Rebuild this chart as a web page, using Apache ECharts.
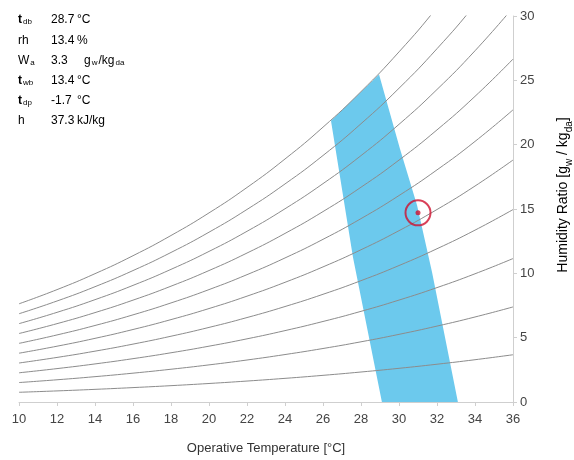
<!DOCTYPE html>
<html>
<head>
<meta charset="utf-8">
<script src="https://cdn.jsdelivr.net/npm/echarts@6/dist/echarts.min.js"></script>
<style>
  html, body { margin: 0; padding: 0; background: #fff; }
  #chart { width: 574px; height: 460px; }
</style>
</head>
<body>
<div id="chart"></div>
<script>
// Dry-bulb temperatures (°C) at which the relative-humidity curves are sampled
var tempPoints = [10, 12, 14, 16, 18, 20, 22, 24, 26, 28, 30, 32, 34, 36];

// Humidity ratio (g/kg) along each constant-RH curve, 10 % ... 100 %
var rh10  = [0.755, 0.862, 0.983, 1.119, 1.270, 1.439, 1.628, 1.838, 2.072, 2.331, 2.618, 2.936, 3.286, 3.672];
var rh20  = [1.511, 1.727, 1.969, 2.241, 2.546, 2.885, 3.264, 3.688, 4.158, 4.679, 5.258, 5.900, 6.607, 7.388];
var rh30  = [2.270, 2.595, 2.959, 3.368, 3.826, 4.338, 4.909, 5.548, 6.258, 7.046, 7.921, 8.891, 9.964, 11.148];
var rh40  = [3.030, 3.464, 3.951, 4.499, 5.112, 5.797, 6.563, 7.419, 8.371, 9.430, 10.606, 11.912, 13.356, 14.954];
var rh50  = [3.792, 4.336, 4.947, 5.634, 6.404, 7.263, 8.226, 9.302, 10.500, 11.832, 13.315, 14.961, 16.785, 18.805];
var rh60  = [4.556, 5.211, 5.946, 6.773, 7.700, 8.736, 9.897, 11.196, 12.642, 14.253, 16.046, 18.041, 20.252, 22.704];
var rh70  = [5.322, 6.088, 6.948, 7.916, 9.002, 10.216, 11.577, 13.101, 14.799, 16.692, 18.801, 21.149, 23.755, 26.650];
var rh80  = [6.090, 6.967, 7.953, 9.063, 10.309, 11.703, 13.267, 15.018, 16.971, 19.150, 21.580, 24.289, 27.298, 30.644];
var rh90  = [6.859, 7.849, 8.961, 10.215, 11.622, 13.197, 14.965, 16.947, 19.158, 21.627, 24.384, 27.459, 30.880, 34.688];
var rh100 = [7.631, 8.733, 9.973, 11.370, 12.940, 14.697, 16.672, 18.887, 21.360, 24.123, 27.211, 30.660, 34.502, 38.783];
var rhCurves = [rh10, rh20, rh30, rh40, rh50, rh60, rh70, rh80, rh90, rh100];

// Comfort zone outline: operative temperature (°C) and humidity ratio (g/kg)
var zoneTemp = [29.1, 27.58, 26.42, 28.95, 30.05, 30.95, 31.74, 33.1];
var zoneW    = [0,    11.23, 21.85, 25.46, 19.69, 15.3,  10.08, 0];

// Current state point
var stateTemp = [31.0];
var stateW = [14.7];

// Axis ticks
var xTicks = [10, 12, 14, 16, 18, 20, 22, 24, 26, 28, 30, 32, 34, 36];
var yTicks = [0, 5, 10, 15, 20, 25, 30];

// Readout panel (rich-text markup: {m|..} main text, {s|..} subscript)
var readoutSymbols = ['{b|t}{s|db}', '{m|rh}', '{w|W}{s|a}', '{b|t}{s|wb}', '{b|t}{s|dp}', '{m|h}'];
var readoutValues  = ['28.7', '13.4', '3.3', '13.4', '-1.7', '37.3'];
var readoutUnits   = ['{m|°C}', '{m|%}', '{m|g}{s|w}{m|/kg}{s|da}', '{m|°C}', '{m|°C}', '{m|kJ/kg}'];

var FONT = 'Liberation Sans, Arial, sans-serif';

function pairs(xs, ys) {
  return xs.map(function (x, i) { return [x, ys[i]]; });
}

var series = [];

series.push({
  type: 'custom',
  coordinateSystem: 'cartesian2d',
  silent: true,
  z: 1,
  data: [0],
  renderItem: function (params, api) {
    var pts = zoneTemp.map(function (t, i) { return api.coord([t, zoneW[i]]); });
    return {
      type: 'polygon',
      shape: { points: pts },
      style: { fill: 'rgb(108,201,237)', stroke: null }
    };
  }
});

rhCurves.forEach(function (curve) {
  series.push({
    type: 'line',
    data: pairs(tempPoints, curve),
    smooth: true,
    symbol: 'none',
    silent: true,
    z: 2,
    lineStyle: { color: '#8c8c8c', width: 1 }
  });
});

series.push({
  type: 'scatter',
  data: pairs(stateTemp, stateW),
  symbol: 'circle',
  symbolSize: 25,
  z: 5,
  itemStyle: { color: 'rgba(0,0,0,0)', borderColor: '#d0102e', borderWidth: 2 }
});
series.push({
  type: 'scatter',
  data: pairs(stateTemp, stateW),
  symbol: 'circle',
  symbolSize: 5,
  z: 6,
  itemStyle: { color: '#d0102e' }
});

var rowRich = {
  m: { fontSize: 12, fontFamily: FONT, color: '#222', lineHeight: 16, verticalAlign: 'bottom' },
  b: { fontSize: 12, fontFamily: FONT, color: '#222', fontWeight: 'bold', lineHeight: 16, verticalAlign: 'bottom' },
  w: { fontSize: 12, fontFamily: FONT, color: '#8a8a8a', lineHeight: 16, verticalAlign: 'bottom' },
  s: { fontSize: 8, fontFamily: FONT, color: '#a8a8a8', lineHeight: 16, verticalAlign: 'bottom', padding: [0, 1, 0, 1] }
};

var graphics = [];
readoutSymbols.forEach(function (sym, i) {
  var top = 14 + i * 20.2;
  graphics.push({
    type: 'text', left: 18, top: top,
    style: { text: sym, rich: rowRich }
  });
  graphics.push({
    type: 'text', left: 51, top: top,
    style: { text: '{m|' + readoutValues[i] + '}', rich: rowRich }
  });
  graphics.push({
    type: 'text', left: i === 2 ? 84 : 77, top: top,
    style: { text: readoutUnits[i], rich: rowRich }
  });
});

// Vertical axis title with subscripts
graphics.push({
  type: 'text',
  x: 561, y: 195,
  rotation: Math.PI / 2,
  style: {
    text: '{m|Humidity Ratio [g}{s|w}{m| / kg}{s|da}{m|]}',
    align: 'center',
    verticalAlign: 'middle',
    rich: {
      m: { fontSize: 14, fontFamily: FONT, color: '#333', lineHeight: 18, verticalAlign: 'bottom' },
      s: { fontSize: 10, fontFamily: FONT, color: '#333', lineHeight: 18, verticalAlign: 'bottom', padding: [0, 0, -4, 0] }
    }
  }
});

var chart = echarts.init(document.getElementById('chart'), null, { renderer: 'canvas' });
chart.setOption({
  animation: false,
  backgroundColor: '#fff',
  grid: { left: 19, right: 61, top: 16, bottom: 54, containLabel: false },
  xAxis: {
    type: 'value',
    min: xTicks[0], max: xTicks[xTicks.length - 1], interval: 2,
    name: 'Operative Temperature [°C]',
    nameLocation: 'middle',
    nameGap: 40,
    nameTextStyle: { fontSize: 13, fontFamily: FONT, color: '#333' },
    axisLine: { show: true, lineStyle: { color: '#cfcfcf' } },
    axisTick: { show: true, length: 4, lineStyle: { color: '#cfcfcf' } },
    axisLabel: { fontSize: 13, fontFamily: FONT, color: '#444', margin: 11 },
    splitLine: { show: false }
  },
  yAxis: {
    type: 'value',
    position: 'right',
    min: yTicks[0], max: yTicks[yTicks.length - 1], interval: 5,
    axisLine: { show: true, lineStyle: { color: '#cfcfcf' } },
    axisTick: { show: true, length: 4, lineStyle: { color: '#cfcfcf' } },
    axisLabel: { fontSize: 13, fontFamily: FONT, color: '#444', margin: 7 },
    splitLine: { show: false }
  },
  graphic: graphics,
  series: series
});
</script>
</body>
</html>
